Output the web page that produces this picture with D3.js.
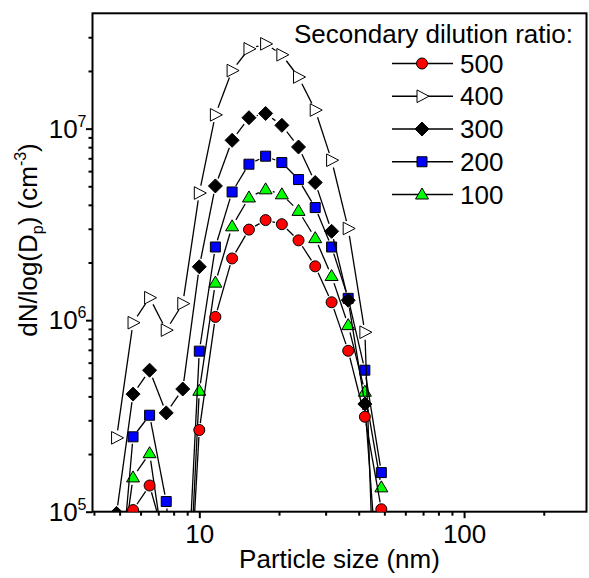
<!DOCTYPE html>
<html>
<head>
<meta charset="utf-8">
<script src="https://cdn.jsdelivr.net/npm/d3@7"></script>
<style>
  body { margin: 0; background: #fff; }
  text { font-family: "Liberation Sans", Arial, sans-serif; fill: #000; }
</style>
</head>
<body>
<div id="chart"></div>
<script>
// particle sizes (nm), 16 channels per decade
const sizes = [4.87, 5.62, 6.49, 7.50, 8.66, 10.0, 11.5, 13.3, 15.4, 17.8, 20.5, 23.7, 27.4, 31.6, 36.5, 42.2, 48.7]

// dN/logDp values (values under 1e5 fall below the axis)
const dN500 = [3e4, 1.02e5, 1.37e5, 6.7e4, 8e3, 2.67e5, 1.04e6, 2.10e6, 2.97e6, 3.33e6, 3.17e6, 2.61e6, 1.91e6, 1.24e6, 6.92e5, 3.13e5, 1.03e5]
const dN400 = [2.43e5, 9.7e5, 1.31e6, 8.87e5, 1.22e6, 4.61e6, 1.18e7, 2.01e7, 2.61e7, 2.77e7, 2.43e7, 1.86e7, 1.25e7, 6.84e6, 3.01e6, 8.65e5, 3e3]
const dN300 = [9.8e4, 4.11e5, 5.48e5, 3.28e5, 4.37e5, 1.90e6, 5.02e6, 8.69e6, 1.14e7, 1.20e7, 1.04e7, 8.02e6, 5.23e6, 2.91e6, 1.27e6, 3.65e5, 2.5e4]
const dN200 = [2.6e4, 2.46e5, 3.19e5, 1.13e5, 1.3e4, 6.89e5, 2.41e6, 4.67e6, 6.52e6, 7.18e6, 6.65e6, 5.42e6, 3.87e6, 2.41e6, 1.30e6, 5.48e5, 1.60e5]
const dN100 = [3.6e4, 1.51e5, 2.02e5, 5.2e4, 8e3, 4.28e5, 1.57e6, 3.09e6, 4.37e6, 4.82e6, 4.54e6, 3.72e6, 2.68e6, 1.70e6, 9.42e5, 4.23e5, 1.34e5]

const ratioLabels = ["500", "400", "300", "200", "100"]

const xMajorTicks = [10, 100]
const xMinorTicks = [4, 5, 6, 7, 8, 9, 20, 30, 40, 50, 60, 70, 80, 90, 200]
const yMajorExps = [5, 6, 7]
const yMinorTicks = [2e5, 3e5, 4e5, 5e5, 6e5, 7e5, 8e5, 9e5, 2e6, 3e6, 4e6, 5e6, 6e6, 7e6, 8e6, 9e6, 2e7, 3e7]

// marker shapes
const circleSym = { draw(ctx) { ctx.moveTo(5.5, 0); ctx.arc(0, 0, 5.5, 0, 2 * Math.PI) } }
const squareSym = { draw(ctx) { ctx.rect(-5, -5, 10, 10) } }
const diamondSym = { draw(ctx) { ctx.moveTo(0, -7); ctx.lineTo(7, 0); ctx.lineTo(0, 7); ctx.lineTo(-7, 0); ctx.closePath() } }
const triUpSym = { draw(ctx) { ctx.moveTo(0, -6.5); ctx.lineTo(6.5, 4.5); ctx.lineTo(-6.5, 4.5); ctx.closePath() } }
const triRightSym = { draw(ctx) { ctx.moveTo(-5, -6.3); ctx.lineTo(7, 0); ctx.lineTo(-5, 6.3); ctx.closePath() } }

const series = [
    { label: "500", values: dN500, sym: circleSym, fill: "#ff0000", gap: 7 },
    { label: "400", values: dN400, sym: triRightSym, fill: "#ffffff", gap: 7.5 },
    { label: "300", values: dN300, sym: diamondSym, fill: "#000000", gap: 8 },
    { label: "200", values: dN200, sym: squareSym, fill: "#0000ff", gap: 7 },
    { label: "100", values: dN100, sym: triUpSym, fill: "#00ff00", gap: 7.5 }
]

const width = 589
const height = 578
const plot = { left: 92.5, right: 586.5, top: 13.3, bottom: 511.7 }

const svg = d3.select("#chart").append("svg")
    .attr("width", width)
    .attr("height", height)

const x = d3.scaleLog().domain([3.95, 290]).range([plot.left, plot.right])
const y = d3.scaleLog().domain([1e5, 4e7]).range([plot.bottom, plot.top])

svg.append("clipPath").attr("id", "clip")
    .append("rect")
    .attr("x", plot.left).attr("y", plot.top)
    .attr("width", plot.right - plot.left)
    .attr("height", plot.bottom - plot.top)

// x axis
const xAxisG = svg.append("g").attr("transform", `translate(0,${plot.bottom})`)
xAxisG.append("g")
    .call(d3.axisBottom(x).tickValues(xMinorTicks).tickSize(4).tickSizeOuter(0).tickFormat(""))
xAxisG.append("g")
    .call(d3.axisBottom(x).tickValues(xMajorTicks).tickSize(6.5).tickPadding(6).tickSizeOuter(0).tickFormat(d3.format("d")))
    .selectAll("text")
    .style("font-size", "26px")
    .style("font-family", "'Liberation Sans', Arial, sans-serif")
xAxisG.selectAll(".domain").remove()
xAxisG.selectAll("line").attr("stroke", "#000").attr("stroke-width", 2)

// y axis
const yAxisG = svg.append("g").attr("transform", `translate(${plot.left},0)`)
yAxisG.append("g")
    .call(d3.axisLeft(y).tickValues(yMinorTicks).tickSize(4).tickSizeOuter(0).tickFormat(""))
yAxisG.append("g")
    .call(d3.axisLeft(y).tickValues(yMajorExps.map(e => Math.pow(10, e))).tickSize(6.5).tickSizeOuter(0).tickFormat(""))
yAxisG.selectAll(".domain").remove()
yAxisG.selectAll("line").attr("stroke", "#000").attr("stroke-width", 2)

const yLabels = yAxisG.selectAll(".ylab")
    .data(yMajorExps)
    .enter().append("text")
    .attr("class", "ylab")
    .attr("x", -6)
    .attr("y", d => y(Math.pow(10, d)) + 9)
    .attr("text-anchor", "end")
    .style("font-size", "26px")
yLabels.append("tspan").text("10")
yLabels.append("tspan").attr("dy", -11).style("font-size", "16px").text(d => d)

// frame
svg.append("rect")
    .attr("x", plot.left).attr("y", plot.top)
    .attr("width", plot.right - plot.left)
    .attr("height", plot.bottom - plot.top)
    .attr("fill", "none")
    .attr("stroke", "#000")
    .attr("stroke-width", 2)

// data
const dataG = svg.append("g").attr("clip-path", "url(#clip)")

function segments(s) {
    const pts = sizes.map((d, i) => [x(d), y(s.values[i])])
    const segs = []
    for (let i = 1; i < pts.length; i++) {
        const [x0, y0] = pts[i - 1]
        const [x1, y1] = pts[i]
        const len = Math.hypot(x1 - x0, y1 - y0)
        if (len < 2 * s.gap + 1) continue
        const ux = (x1 - x0) / len, uy = (y1 - y0) / len
        segs.push([x0 + ux * s.gap, y0 + uy * s.gap, x1 - ux * s.gap, y1 - uy * s.gap])
    }
    return segs
}

// draw back to front so 500 ends on top
series.slice().reverse().forEach(s => {
    const g = dataG.append("g")
    g.selectAll("line")
        .data(segments(s))
        .enter().append("line")
        .attr("x1", d => d[0]).attr("y1", d => d[1])
        .attr("x2", d => d[2]).attr("y2", d => d[3])
        .attr("stroke", "#000")
        .attr("stroke-width", 1.3)

    g.selectAll("path")
        .data(sizes.map((d, i) => [d, s.values[i]]))
        .enter().append("path")
        .attr("transform", d => `translate(${x(d[0])},${y(d[1])})`)
        .attr("d", d3.symbol().type(s.sym))
        .attr("fill", s.fill)
        .attr("stroke", "#000")
        .attr("stroke-width", 1)
})

// legend
const legend = svg.append("g")
legend.append("text")
    .attr("x", 294)
    .attr("y", 43)
    .style("font-size", "26px")
    .text("Secondary dilution ratio:")

const legendItems = legend.selectAll(".item")
    .data(series)
    .enter().append("g")
    .attr("class", "item")
    .attr("transform", (d, i) => `translate(0,${63.5 + i * 32.75})`)

legendItems.append("line")
    .attr("x1", 392).attr("x2", 453)
    .attr("stroke", "#000")
    .attr("stroke-width", 1.3)
legendItems.append("path")
    .attr("transform", "translate(422,0)")
    .attr("d", d => d3.symbol().type(d.sym)())
    .attr("fill", d => d.fill)
    .attr("stroke", "#000")
legendItems.append("text")
    .attr("x", 460)
    .attr("y", 9)
    .style("font-size", "26px")
    .text(d => d.label)

// axis titles
svg.append("text")
    .attr("x", (plot.left + plot.right) / 2)
    .attr("y", 568)
    .attr("text-anchor", "middle")
    .style("font-size", "26px")
    .text("Particle size (nm)")

const yTitle = svg.append("text")
    .attr("transform", "translate(37,240) rotate(-90)")
    .attr("text-anchor", "middle")
    .style("font-size", "26px")
yTitle.append("tspan").text("dN/log(D")
yTitle.append("tspan").attr("dy", 6).style("font-size", "16px").text("p")
yTitle.append("tspan").attr("dy", -6).text(") (cm")
yTitle.append("tspan").attr("dy", -11).style("font-size", "16px").text("-3")
yTitle.append("tspan").attr("dy", 11).text(")")
</script>
</body>
</html>
